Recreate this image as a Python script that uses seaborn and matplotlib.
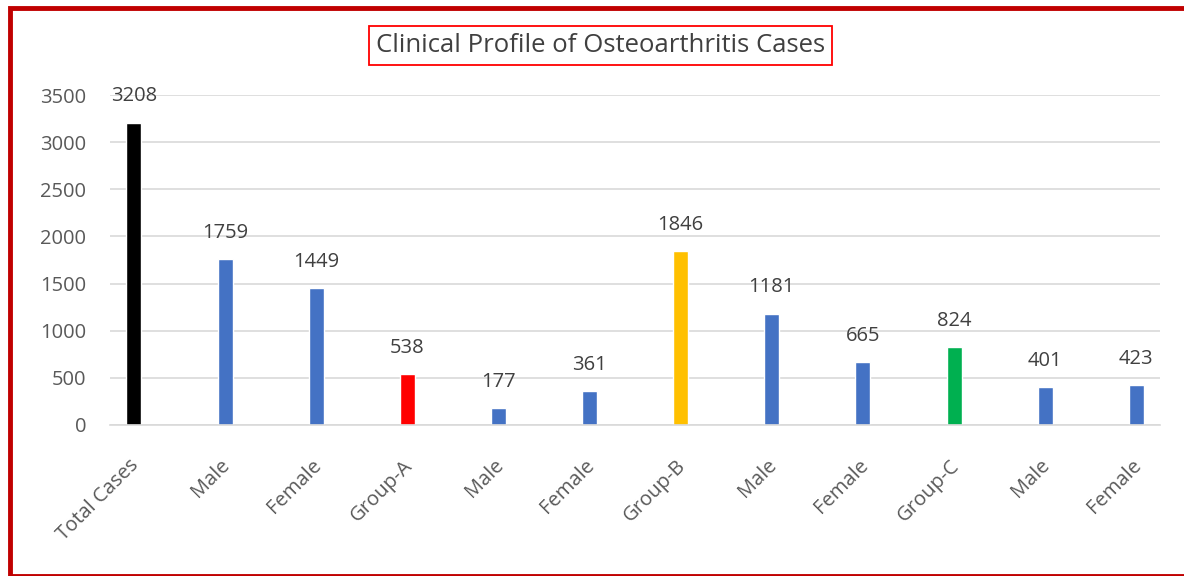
import matplotlib
matplotlib.use("Agg")
import matplotlib.pyplot as plt
import matplotlib.transforms as mtransforms
import seaborn as sns
import pandas as pd
from matplotlib.patches import Rectangle

categories = ["Total Cases", "Male", "Female", "Group-A", "Male", "Female",
              "Group-B", "Male", "Female", "Group-C", "Male", "Female"]
cases = [3208, 1759, 1449, 538, 177, 361, 1846, 1181, 665, 824, 401, 423]
bar_colors = ["#000000", "#4472C4", "#4472C4", "#FF0000", "#4472C4", "#4472C4",
              "#FFC000", "#4472C4", "#4472C4", "#00B050", "#4472C4", "#4472C4"]

sns.set_theme(style="white")
plt.rcParams["font.family"] = ["Open Sans", "DejaVu Sans"]

df = pd.DataFrame({"pos": range(len(cases)), "label": categories, "cases": cases})
palette = {i: c for i, c in enumerate(bar_colors)}

fig = plt.figure(figsize=(11.84, 5.76), dpi=100)
ax = fig.add_axes([0.0929, 0.2622, 0.8868, 0.5728])

sns.barplot(data=df, x="pos", y="cases", hue="pos", palette=palette,
            width=0.165, legend=False, saturation=1, ax=ax)

ax.set_xlim(-0.263, 11.26)
ax.set_ylim(0, 3500)
ax.set_yticks(range(0, 3501, 500))
ax.yaxis.grid(True, color="#D9D9D9", linewidth=1.2)
ax.set_axisbelow(True)
for s in ["top", "right", "left"]:
    ax.spines[s].set_visible(False)
ax.spines["bottom"].set_color("#D9D9D9")
ax.spines["bottom"].set_linewidth(1.2)
ax.set_xlabel("")
ax.set_ylabel("")
ax.tick_params(axis="both", length=0, colors="#595959", labelsize=14.5)
ax.tick_params(axis="y", pad=17)
ax.set_xticks(range(len(categories)))
ax.set_xticklabels(categories, rotation=45, ha="right", va="top",
                   rotation_mode="anchor")
ax.tick_params(axis="x", pad=22)
# nudge the rotated labels a little to the left, like Excel does
shift = mtransforms.ScaledTranslation(-5 / 100, 0, fig.dpi_scale_trans)
for lbl in ax.get_xticklabels():
    lbl.set_transform(lbl.get_transform() + shift)

for i, v in enumerate(cases):
    ax.annotate(str(v), (i, v), xytext=(0, 19), textcoords="offset points",
                ha="center", va="center", fontsize=14.5, color="#404040")

fig.text(0.507, 0.921, "Clinical Profile of Osteoarthritis Cases",
         ha="center", va="center", fontsize=18.5, color="#404040",
         bbox=dict(boxstyle="square,pad=0.26", ec="#FF0000", fc="white", lw=1.3))

# dark red frame around the chart
fig.patches.append(Rectangle((10 / 1184, 1 - 575.5 / 576), 1.2, (575.5 - 7.5) / 576,
                             transform=fig.transFigure, fill=False,
                             ec="#C00000", lw=3.5))

fig.savefig("out.png", dpi=100, facecolor="white")
